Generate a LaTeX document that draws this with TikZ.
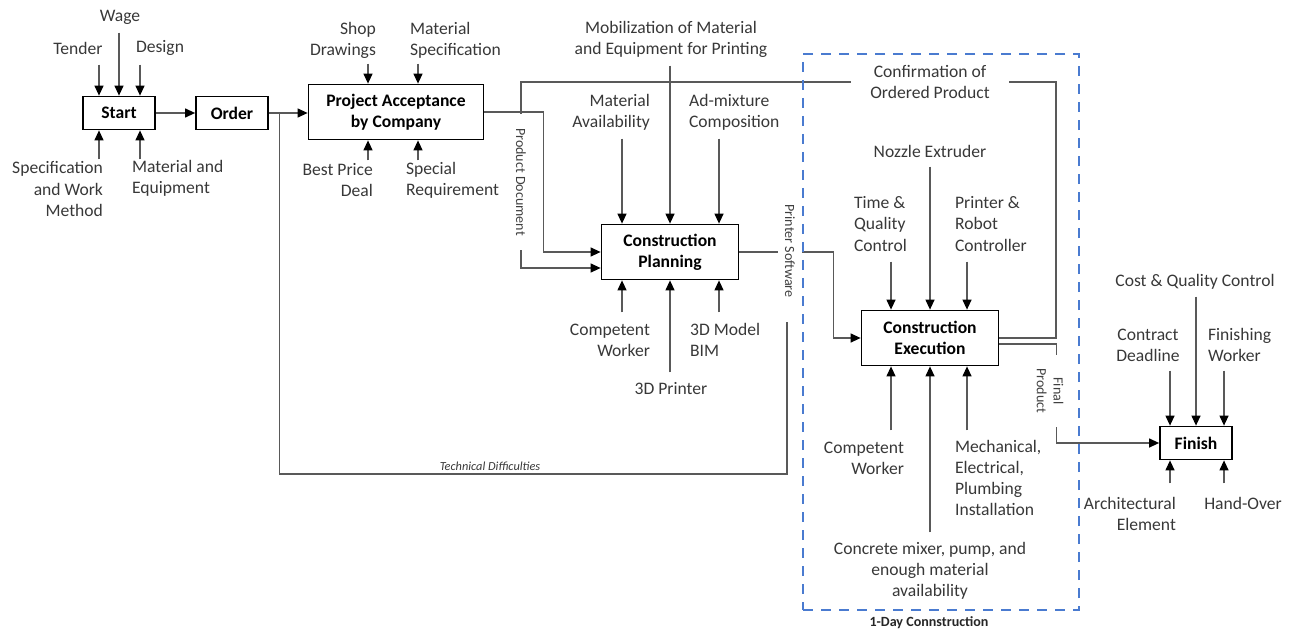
\documentclass[tikz,border=0pt]{standalone}
\usepackage{fontspec}
\setmainfont{Carlito}
\usepackage{xcolor}
\usetikzlibrary{positioning,arrows.meta,calc}
\definecolor{dayblue}{HTML}{4A7BD0}

\begin{document}
\begin{tikzpicture}[
  x=0.2mm, y=-0.2mm,
  box/.style={draw, line width=1pt, align=center, font=\bfseries, inner sep=2pt},
  arr/.style={-{Triangle[length=2mm, width=1.8mm, color=black]}, line width=0.7pt, black!65},
  conn/.style={line width=0.7pt, black!65},
  lbl/.style={align=center, text=black!78, inner sep=1pt},
  side/.style={font=\fontsize{8}{9.5}\selectfont, text=black!75, fill=white, rotate=-90, align=center, inner ysep=1pt}
]
\useasboundingbox (0,0) rectangle (1289,630);

% activities
\node[box, minimum width=14.4mm, minimum height=6.6mm] (start) at (119,113) {Start};
\node[box, minimum width=14.4mm, minimum height=6.6mm] (order) at (232,113) {Order};
\node[box, minimum width=35mm, minimum height=11mm] (accept) at (396,112) {Project Acceptance\\by Company};
\node[box, minimum width=27.4mm, minimum height=11mm] (plan) at (670,252) {Construction\\Planning};
\node[box, minimum width=27.4mm, minimum height=11mm] (exec) at (930,338) {Construction\\Execution};
\node[box, minimum width=14.4mm, minimum height=6.6mm] (finish) at (1196,443) {Finish};

% main flow and feedback
\coordinate (tdjoin) at ([xshift=2.2mm]order.east);
\coordinate (loopR) at (1056,82);
\coordinate (loopL) at (521,82);
\coordinate (tdtop) at (787,322);
\coordinate (tdbot) at (787,474);
\draw[arr] (start) -- (order);
\draw[arr] (order) -- (order -| accept.west);
\draw[arr] (accept.east) -- ++(59,0) |- (plan.west);
\draw[arr] (exec.east) -| (loopR) -- (loopL) |- ([yshift=-3.2mm]plan.west);
\draw[arr] (plan.east) -- ++(94,0) |- (exec.west);
\draw[arr] ([yshift=-1.2mm]exec.east) -- ++(57,0) |- (finish.west);
\draw[conn] (tdtop) -- (tdbot) -| (tdjoin);

% labels on the flow lines
\node[lbl, fill=white, inner xsep=3.8mm] (confirm) at (930,82) {Confirmation of\\Ordered Product};
\node[side, inner xsep=2.8mm] (proddoc) at (521,182) {Product Document};
\node[side, inner ysep=1.4mm] (prsoft) at (790,251) {Printer Software};
\node[side, inner xsep=2.8mm] (finprod) at (1050,391) {Final\\Product};
\node[lbl, font=\itshape\fontsize{7}{8}\selectfont, anchor=south] (techdiff) at (490,473) {Technical Difficulties};

% start
\node[lbl] (tender) at (78,48) {Tender};
\node[lbl] (wage) at (120,17) {Wage};
\node[lbl] (design) at (160,48) {Design};
\node[lbl, align=right, anchor=east] (spec) at (105,189) {Specification\\and Work\\Method};
\node[lbl, align=left, anchor=west] (mateq) at (130,178) {Material and\\Equipment};
\draw[arr] ([xshift=-4mm,yshift=6.2mm]start.north) -- ([xshift=-4mm]start.north);
\draw[arr] ([yshift=12.6mm]start.north) -- (start.north);
\draw[arr] ([xshift=4.2mm,yshift=6.2mm]start.north) -- ([xshift=4.2mm]start.north);
\draw[arr] ([xshift=-4mm,yshift=-5.8mm]start.south) -- ([xshift=-4mm]start.south);
\draw[arr] ([xshift=4.2mm,yshift=-5.8mm]start.south) -- ([xshift=4.2mm]start.south);

% project acceptance
\node[lbl, align=right, anchor=east] (shopdraw) at (378,40) {Shop\\Drawings};
\node[lbl, align=left, anchor=west] (matspec) at (408,40) {Material\\Specification};
\node[lbl, align=right, anchor=east] (bestprice) at (375,180) {Best Price\\Deal};
\node[lbl, align=left, anchor=west] (specreq) at (404,180) {Special\\Requirement};
\draw[arr] ([xshift=-5.6mm,yshift=4mm]accept.north) -- ([xshift=-5.6mm]accept.north);
\draw[arr] ([xshift=4.4mm,yshift=4mm]accept.north) -- ([xshift=4.4mm]accept.north);
\draw[arr] ([xshift=-5.6mm,yshift=-4mm]accept.south) -- ([xshift=-5.6mm]accept.south);
\draw[arr] ([xshift=4.4mm,yshift=-4mm]accept.south) -- ([xshift=4.4mm]accept.south);

% construction planning
\node[lbl] (mobil) at (671,39) {Mobilization of Material\\and Equipment for Printing};
\node[lbl, align=right, anchor=east] (matavail) at (652,112) {Material\\Availability};
\node[lbl, align=left, anchor=west] (admix) at (687,112) {Ad-mixture\\Composition};
\node[lbl, align=right, anchor=east] (compwork) at (652,340) {Competent\\Worker};
\node[lbl] (printer) at (671,389) {3D Printer};
\node[lbl, align=left, anchor=west] (bim) at (688,340) {3D Model\\BIM};
\draw[arr] ([xshift=-9.6mm,yshift=17mm]plan.north) -- ([xshift=-9.6mm]plan.north);
\draw[arr] ([yshift=31.6mm]plan.north) -- (plan.north);
\draw[arr] ([xshift=9.8mm,yshift=17mm]plan.north) -- ([xshift=9.8mm]plan.north);
\draw[arr] ([xshift=-9.6mm,yshift=-6.4mm]plan.south) -- ([xshift=-9.6mm]plan.south);
\draw[arr] ([yshift=-18.4mm]plan.south) -- (plan.south);
\draw[arr] ([xshift=9.8mm,yshift=-6.4mm]plan.south) -- ([xshift=9.8mm]plan.south);

% construction execution
\node[lbl] (nozzle) at (930,151) {Nozzle Extruder};
\node[lbl, align=left, anchor=west] (timeqc) at (852,224) {Time \&\\Quality\\Control};
\node[lbl, align=left, anchor=west] (robot) at (953,224) {Printer \&\\Robot\\Controller};
\node[lbl, align=right, anchor=east] (workexec) at (906,458) {Competent\\Worker};
\node[lbl] (mixer) at (930,571) {Concrete mixer, pump, and\\enough material\\availability};
\node[lbl, align=left, anchor=west] (mep) at (953,478) {Mechanical,\\Electrical,\\Plumbing\\Installation};
\draw[arr] ([xshift=-7.8mm,yshift=9.6mm]exec.north) -- ([xshift=-7.8mm]exec.north);
\draw[arr] ([yshift=28.6mm]exec.north) -- (exec.north);
\draw[arr] ([xshift=7.4mm,yshift=9.6mm]exec.north) -- ([xshift=7.4mm]exec.north);
\draw[arr] ([xshift=-7.8mm,yshift=-12.8mm]exec.south) -- ([xshift=-7.8mm]exec.south);
\draw[arr] ([yshift=-33.2mm]exec.south) -- (exec.south);
\draw[arr] ([xshift=7.4mm,yshift=-12.8mm]exec.south) -- ([xshift=7.4mm]exec.south);

% finish
\node[lbl] (costqc) at (1195,282) {Cost \& Quality Control};
\node[lbl] (deadline) at (1148,345) {Contract\\Deadline};
\node[lbl, align=left, anchor=west] (finworker) at (1206,345) {Finishing\\Worker};
\node[lbl, align=right, anchor=east] (archel) at (1178,514) {Architectural\\Element};
\node[lbl] (handover) at (1243,503) {Hand-Over};
\draw[arr] ([xshift=-5.2mm,yshift=11mm]finish.north) -- ([xshift=-5.2mm]finish.north);
\draw[arr] ([yshift=25.8mm]finish.north) -- (finish.north);
\draw[arr] ([xshift=5.6mm,yshift=11mm]finish.north) -- ([xshift=5.6mm]finish.north);
\draw[arr] ([xshift=-5.2mm,yshift=-4.6mm]finish.south) -- ([xshift=-5.2mm]finish.south);
\draw[arr] ([xshift=5.6mm,yshift=-4.6mm]finish.south) -- ([xshift=5.6mm]finish.south);

% one-day frame
\node[draw=dayblue, line width=1.1pt, dash pattern=on 2mm off 1.6mm, minimum width=55.2mm, minimum height=111.2mm, inner sep=0pt] (oneday) at (941,332) {};
\node[font=\bfseries\fontsize{8}{9}\selectfont, text=black!85] (onedaylbl) at (929,623) {1-Day Connstruction};
\end{tikzpicture}
\end{document}
